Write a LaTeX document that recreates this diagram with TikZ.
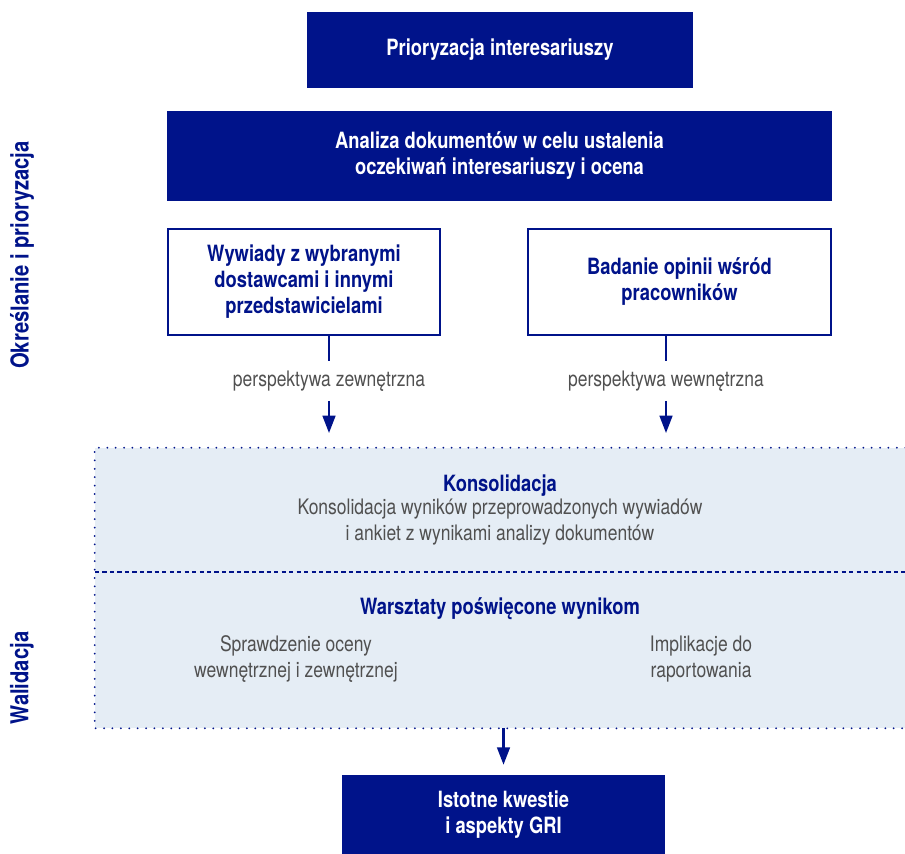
\documentclass[tikz,border=0pt]{standalone}
\usepackage{fontspec}
\setmainfont{TeX Gyre Heros}[FakeStretch=0.82]
\usepackage{tikz}
\usetikzlibrary{arrows.meta}
\definecolor{granat}{HTML}{00138A}
\definecolor{tlo}{HTML}{E5EDF5}
\definecolor{szary}{HTML}{505050}
\newcommand{\rozm}{\fontsize{16}{19.5}\selectfont}
\newcommand{\rozmb}{\fontsize{16.8}{19.5}\selectfont\bfseries}
\tikzstyle{every node}=[font=\rozm]
\tikzstyle{ciemny}=[rectangle,
                                    fill=granat,
                                    text=white,
                                    align=center,
                                    inner sep=0pt,
                                    font=\rozmb
                                    ]
\tikzstyle{jasny}=[rectangle,
                                    draw=granat,
                                    line width=1.8pt,
                                    fill=white,
                                    text=granat,
                                    align=center,
                                    inner sep=0pt,
                                    font=\rozmb
                                    ]
\tikzstyle{opis}=[text=szary,
                                    align=center,
                                    inner sep=0pt]
\tikzstyle{boczny}=[rotate=90,
                                    text=granat,
                                    inner sep=0pt,
                                    font=\fontsize{18.5}{22}\selectfont\bfseries]
\tikzstyle{kropki}=[draw=granat,
                                    line width=1.5pt,
                                    line cap=round,
                                    dash pattern=on 0pt off 6.3pt]

\begin{document}
\begin{tikzpicture}[x=0.75pt,y=-0.75pt,>={Triangle[length=13pt,width=9.5pt]}]
\useasboundingbox (0,0) rectangle (905,853);
% obszar walidacji
\node (walid) [fill=tlo,inner sep=0pt,minimum width=607.5pt,minimum height=210pt] at (500,588) {};
\coordinate (podzial) at (95,572);
\draw[kropki] (walid.north east) -- (walid.north west) -- (walid.south west) -- (walid.south east);
\draw[granat,line width=1.5pt,dash pattern=on 3.2pt off 2.4pt] (podzial) -- (podzial -| walid.east);
% etapy
\node (prior)   [ciemny,minimum width=289.5pt,minimum height=57pt] at (500,50) {Prioryzacja interesariuszy};
\node (analiza) [ciemny,minimum width=498.75pt,minimum height=67.5pt] at (499.5,156) {Analiza dokumentów w celu ustalenia\\oczekiwań interesariuszy i ocena};
\node (wywiady) [jasny,minimum width=204pt,minimum height=79.5pt] at (304,282) {Wywiady z wybranymi\\dostawcami i innymi\\przedstawicielami};
\node (badanie) [jasny,minimum width=227.25pt,minimum height=79.5pt] at (679.5,282) {Badanie opinii wśród\\pracowników};
\node (zew) [opis,minimum height=29.25pt] at (329,381) {perspektywa zewnętrzna};
\node (wew) [opis,minimum height=29.25pt] at (666,381) {perspektywa wewnętrzna};
\node (konsol) [opis] at (500,510) {\textcolor{granat}{\rozmb Konsolidacja}\\[-2pt]Konsolidacja wyników przeprowadzonych wywiadów\\i ankiet z wynikami analizy dokumentów};
\node (warsztaty) [opis,text=granat,font=\rozmb] at (500,609) {Warsztaty poświęcone wynikom};
\node (ocena) [opis] at (296,659) {Sprawdzenie oceny\\wewnętrznej i zewnętrznej};
\node (implik) [opis] at (701,659) {Implikacje do\\raportowania};
\node (kwestie) [ciemny,minimum width=242.25pt,minimum height=60pt] at (503.5,815) {Istotne kwestie\\i aspekty GRI};
% etykiety boczne
\node (okresl) [boczny] at (22,255) {Określanie i prioryzacja};
\node (walidacja) [boczny] at (22,678) {Walidacja};
% strzalki
\draw[granat,line width=1.8pt] (zew.north |- wywiady.south) -- (zew.north);
\draw[granat,line width=1.8pt] (wew.north |- badanie.south) -- (wew.north);
\draw[->,granat,line width=1.8pt,shorten >=11pt] (zew.south) -- (zew.south |- walid.north);
\draw[->,granat,line width=1.8pt,shorten >=11pt] (wew.south) -- (wew.south |- walid.north);
\draw[->,granat,line width=1.8pt,shorten >=7.5pt] (walid.south -| kwestie) -- (kwestie.north);
\end{tikzpicture}
\end{document}
